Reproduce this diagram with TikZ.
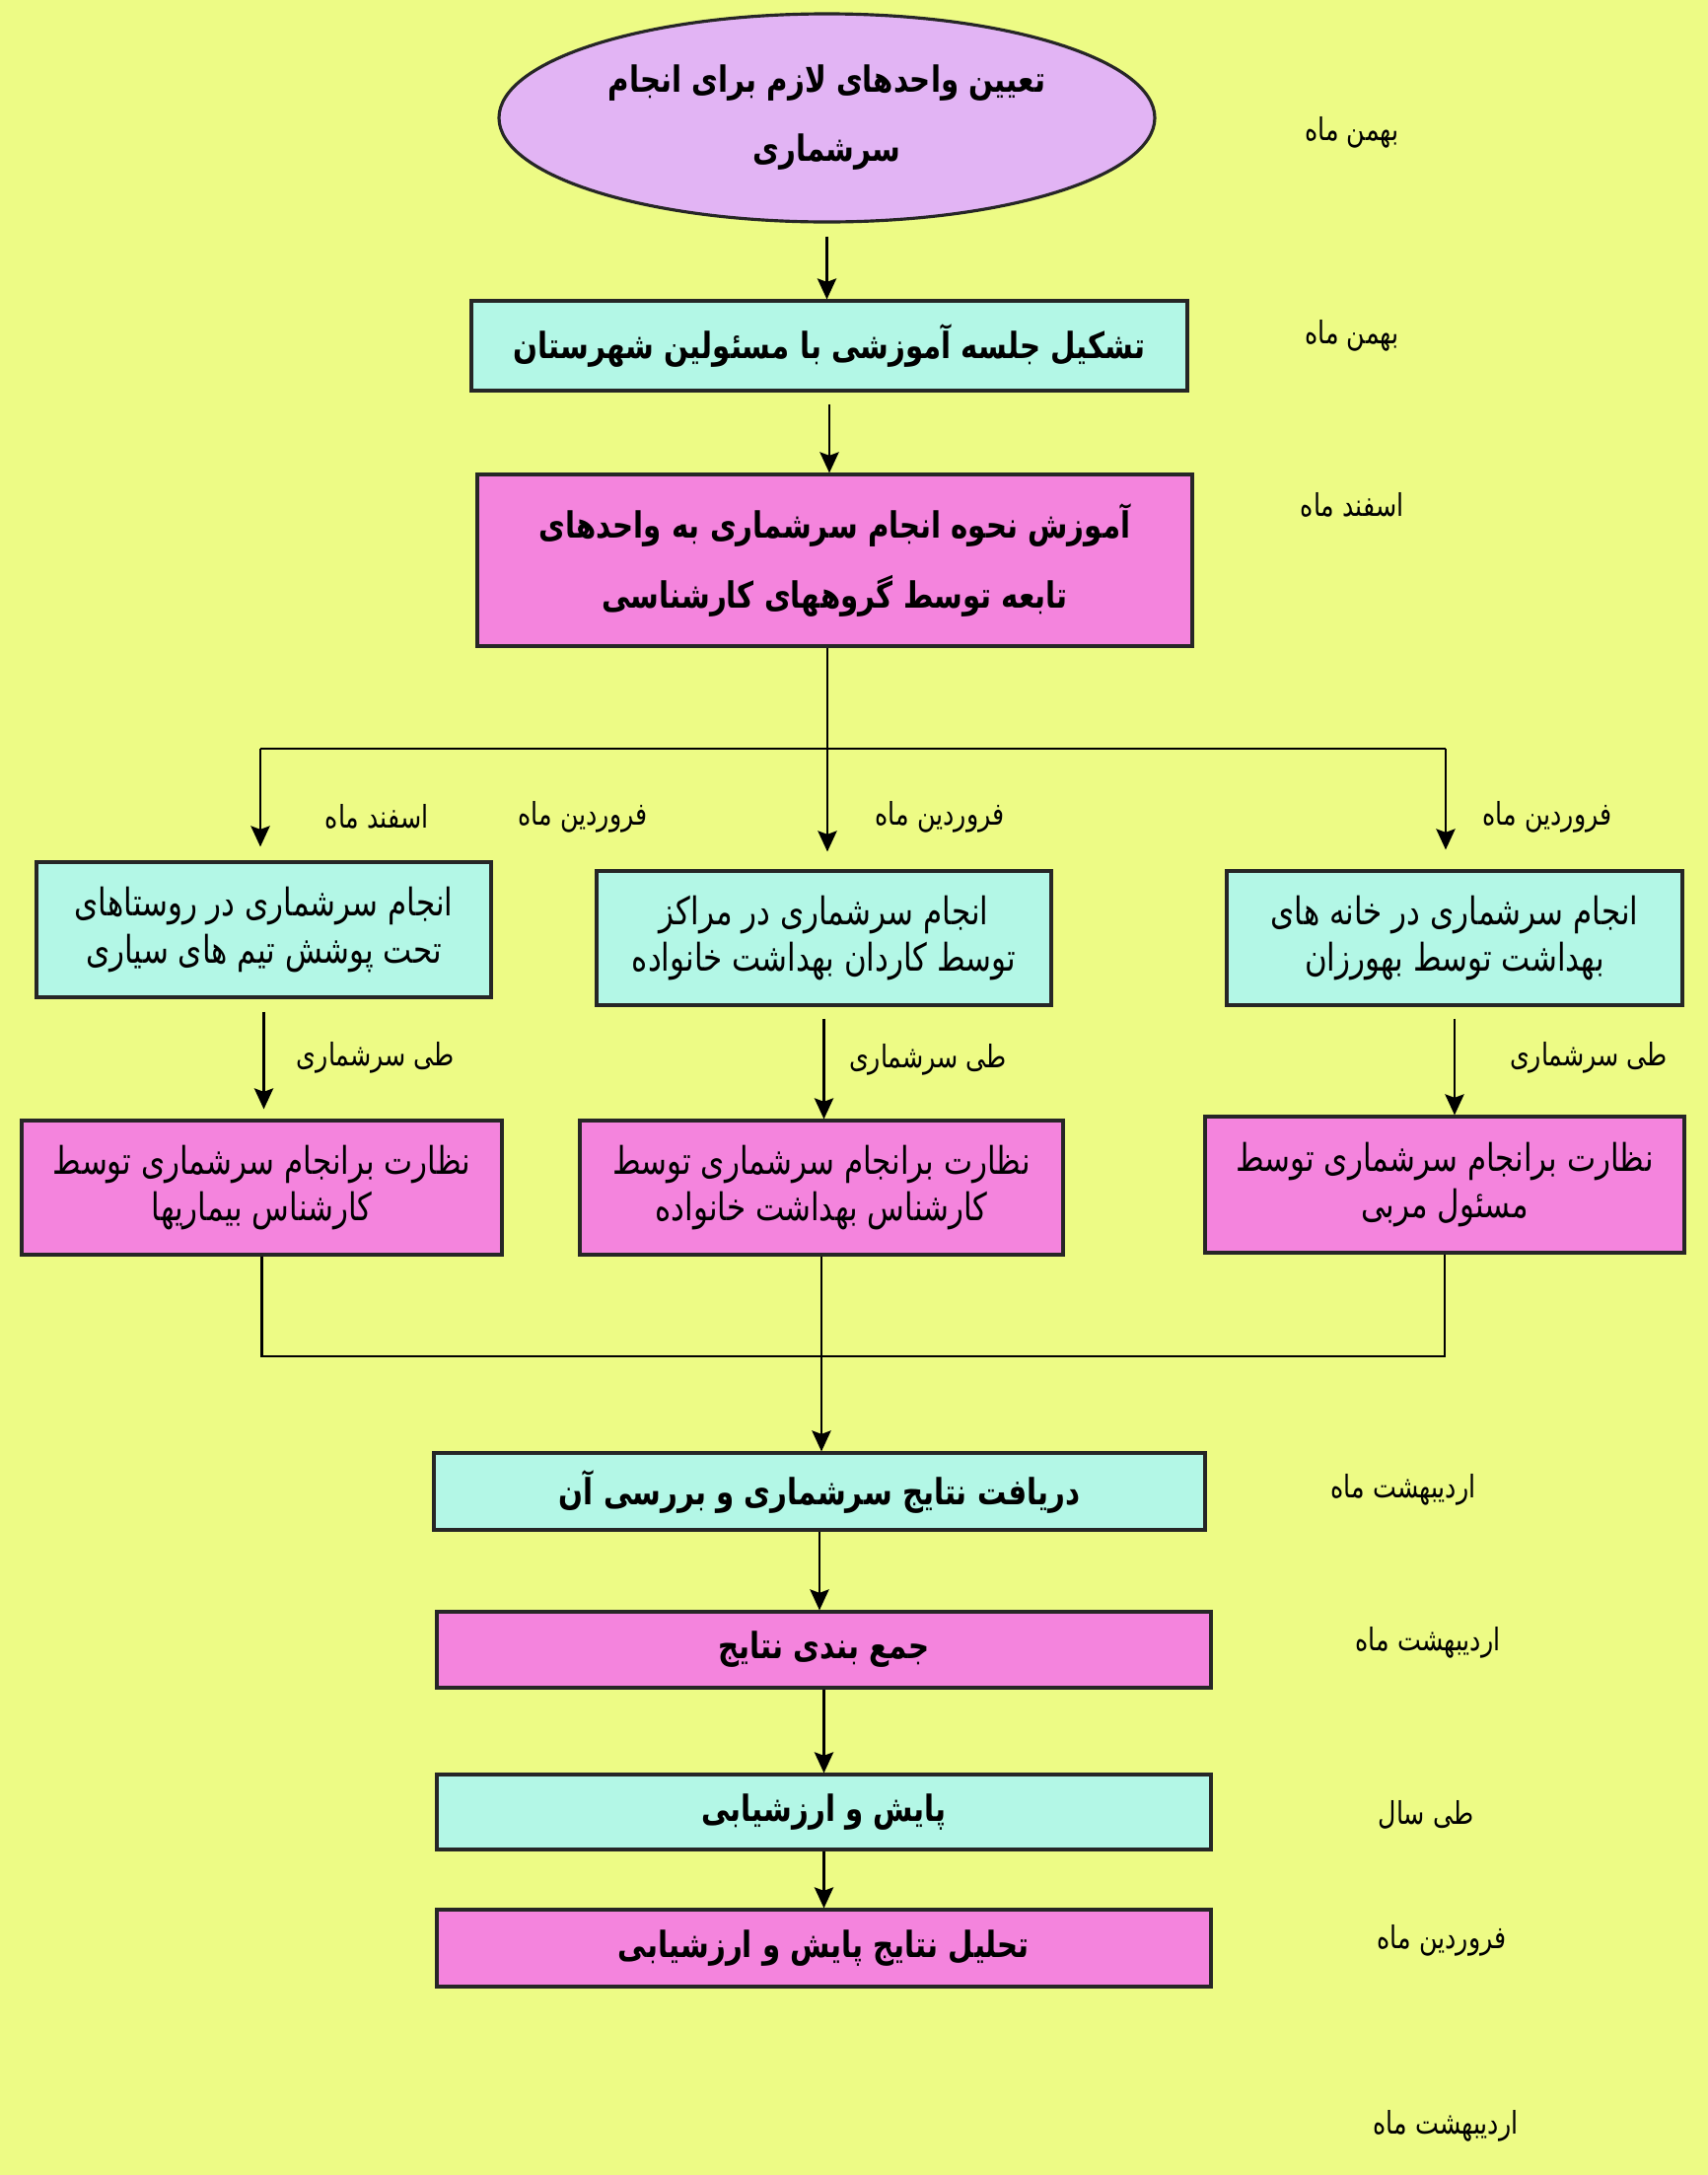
\documentclass[tikz,border=0pt]{standalone}
\usepackage{fontspec}
\usepackage{tikz}
\usetikzlibrary{shapes.geometric,arrows.meta}
\TeXXeTstate=1
\newfontfamily\arabicfont[Script=Arabic,FakeStretch=0.8]{DejaVu Sans}
\definecolor{bgyellow}{HTML}{EDFB85}
\definecolor{boxcyan}{HTML}{B3F7E6}
\definecolor{boxpink}{HTML}{F484DD}
\definecolor{ellviolet}{HTML}{E2B4F4}
\newcommand{\fa}[1]{\beginR #1\endR}

\begin{document}
\begin{tikzpicture}[
    box/.style={draw=black!85,line width=0.9pt,inner sep=0pt,align=center},
    bigtext/.style={font=\arabicfont\bfseries\fontsize{10.4}{20}\selectfont},
    smalltext/.style={font=\arabicfont\fontsize{11}{13.5}\selectfont},
    month/.style={font=\arabicfont\fontsize{9}{10}\selectfont},
    arr/.style={line width=0.6pt,-{Stealth[length=6pt,width=5.5pt,inset=1pt]}},
    link/.style={line width=0.6pt}
  ]
  \useasboundingbox (0,0) rectangle (17.32,-22.05);
  \fill[bgyellow] (0,0) rectangle (17.32,-22.05);

  \node[box,ellipse,fill=ellviolet,minimum width=6.65cm,minimum height=2.11cm,bigtext,text depth=0.1cm] (ell) at (8.385,-1.195)
    {\fa{تعیین واحدهای لازم برای انجام}\\\fa{سرشماری}};
  \node[box,fill=boxcyan,minimum width=7.26cm,minimum height=0.91cm,bigtext] (jalase) at (8.41,-3.505)
    {\fa{تشکیل جلسه آموزشی با مسئولین شهرستان}};
  \node[box,fill=boxpink,minimum width=7.25cm,minimum height=1.74cm,bigtext] (amoozesh) at (8.465,-5.68)
    {\fa{آموزش نحوه انجام سرشماری به واحدهای}\\\fa{تابعه توسط گروههای کارشناسی}};

  \node[box,fill=boxcyan,minimum width=4.61cm,minimum height=1.37cm,smalltext] (roosta) at (2.675,-9.425)
    {\fa{انجام سرشماری در روستاهای}\\\fa{تحت پوشش تیم های سیاری}};
  \node[box,fill=boxcyan,minimum width=4.61cm,minimum height=1.36cm,smalltext] (markaz) at (8.355,-9.51)
    {\fa{انجام سرشماری در مراکز}\\\fa{توسط کاردان بهداشت خانواده}};
  \node[box,fill=boxcyan,minimum width=4.62cm,minimum height=1.36cm,smalltext] (khane) at (14.75,-9.51)
    {\fa{انجام سرشماری در خانه های}\\\fa{بهداشت توسط بهورزان}};

  \node[box,fill=boxpink,minimum width=4.87cm,minimum height=1.36cm,smalltext] (nezaratA) at (2.655,-12.04)
    {\fa{نظارت برانجام سرشماری توسط}\\\fa{کارشناس بیماریها}};
  \node[box,fill=boxpink,minimum width=4.90cm,minimum height=1.36cm,smalltext] (nezaratB) at (8.33,-12.04)
    {\fa{نظارت برانجام سرشماری توسط}\\\fa{کارشناس بهداشت خانواده}};
  \node[box,fill=boxpink,minimum width=4.86cm,minimum height=1.38cm,smalltext] (nezaratC) at (14.65,-12.01)
    {\fa{نظارت برانجام سرشماری توسط}\\\fa{مسئول  مربی}};

  \node[box,fill=boxcyan,minimum width=7.82cm,minimum height=0.78cm,bigtext] (daryaft) at (8.31,-15.12)
    {\fa{دریافت نتایج سرشماری و بررسی آن}};
  \node[box,fill=boxpink,minimum width=7.85cm,minimum height=0.77cm,bigtext] (jam) at (8.355,-16.725)
    {\fa{جمع بندی نتایج}};
  \node[box,fill=boxcyan,minimum width=7.85cm,minimum height=0.76cm,bigtext] (payesh) at (8.355,-18.37)
    {\fa{پایش و ارزشیابی}};
  \node[box,fill=boxpink,minimum width=7.85cm,minimum height=0.78cm,bigtext] (tahlil) at (8.355,-19.75)
    {\fa{تحلیل نتایج پایش و ارزشیابی}};

  % months
  \node[month] (m1) at (13.71,-1.34) {\fa{بهمن ماه}};
  \node[month] (m2) at (13.71,-3.40) {\fa{بهمن ماه}};
  \node[month] (m3) at (13.71,-5.12) {\fa{اسفند ماه}};
  \node[month] (m4) at (3.82,-8.28) {\fa{اسفند ماه}};
  \node[month] (m5) at (5.91,-8.28) {\fa{فروردین ماه}};
  \node[month] (m6) at (9.53,-8.28) {\fa{فروردین ماه}};
  \node[month] (m7) at (15.69,-8.28) {\fa{فروردین ماه}};
  \node[month] (t1) at (3.81,-10.72) {\fa{طی سرشماری}};
  \node[month] (t2) at (9.41,-10.74) {\fa{طی سرشماری}};
  \node[month] (t3) at (16.11,-10.72) {\fa{طی سرشماری}};
  \node[month] (m8) at (14.23,-15.10) {\fa{اردیبهشت ماه}};
  \node[month] (m9) at (14.48,-16.65) {\fa{اردیبهشت ماه}};
  \node[month] (m10) at (14.46,-18.40) {\fa{طی سال}};
  \node[month] (m11) at (14.62,-19.67) {\fa{فروردین ماه}};
  \node[month] (m12) at (14.66,-21.55) {\fa{اردیبهشت ماه}};

  \coordinate (brL) at (2.64,-7.59);
  \coordinate (brM) at (8.39,-7.59);
  \coordinate (brR) at (14.66,-7.59);
  \coordinate (joinY) at (8.35,-13.75);

  \draw[arr,shorten <=1.3mm] (ell.south) -- (ell.south |- jalase.north);
  \draw[arr,shorten <=1.2mm] (jalase.south) -- (jalase.south |- amoozesh.north);
  \draw[link] (brM |- amoozesh.south) -- (brM);
  \draw[link] (brL) -- (brR);
  \draw[arr,shorten >=1.4mm] (brL) -- (brL |- roosta.north);
  \draw[arr,shorten >=1.8mm] (brM) -- (brM |- markaz.north);
  \draw[arr,shorten >=2mm] (brR) -- (brR |- khane.north);

  \draw[arr,shorten <=1.3mm,shorten >=1mm] (roosta.south) -- (roosta.south |- nezaratA.north);
  \draw[arr,shorten <=1.2mm] (markaz.south) -- (markaz.south |- nezaratB.north);
  \draw[arr,shorten <=1.2mm] (khane.south) -- (khane.south |- nezaratC.north);

  \draw[link] (nezaratA.south) -- (nezaratA.south |- joinY) -- (nezaratC.south |- joinY) -- (nezaratC.south);
  \draw[arr] (nezaratB.south) -- (nezaratB.south |- daryaft.north);
  \draw[arr] (daryaft.south) -- (daryaft.south |- jam.north);
  \draw[arr] (jam.south) -- (jam.south |- payesh.north);
  \draw[arr] (payesh.south) -- (payesh.south |- tahlil.north);
\end{tikzpicture}
\end{document}
